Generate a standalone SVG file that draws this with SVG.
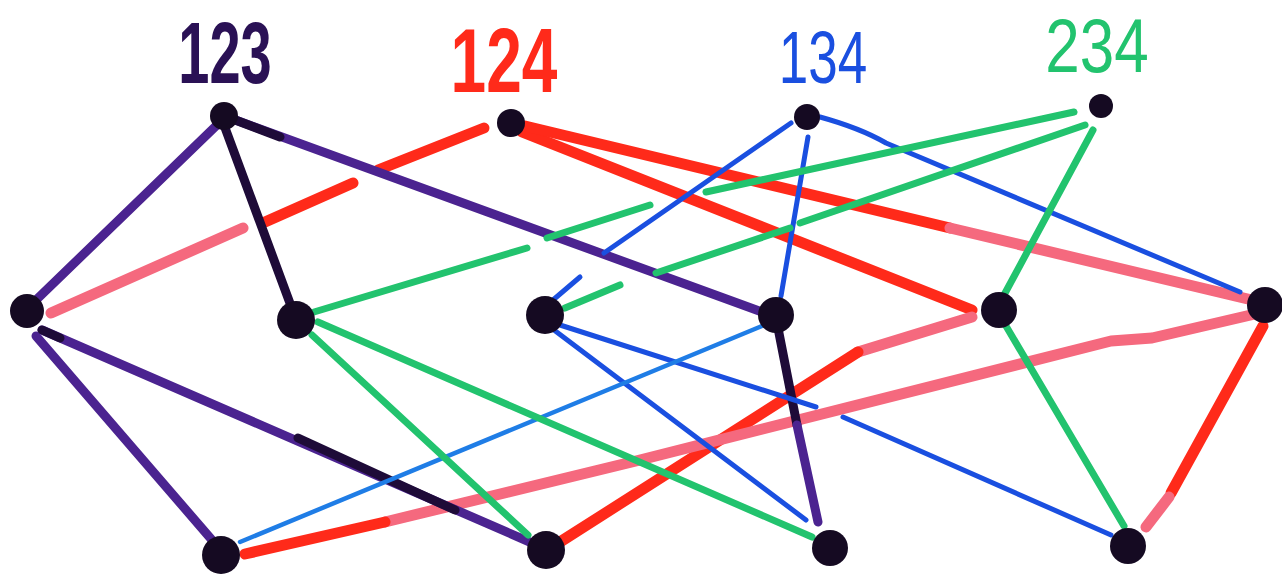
<svg xmlns="http://www.w3.org/2000/svg" width="1282" height="577" viewBox="0 0 1282 577">
<style>
.e{fill:none;stroke-linecap:round;stroke-linejoin:round}
.p{stroke:#4b2390;stroke-width:9}
.pd{stroke:#1e0b38;stroke-width:9}
.r{stroke:#ff2a1a;stroke-width:11}
.pk{stroke:#f5697e;stroke-width:11}
.b{stroke:#1a4fe0;stroke-width:5}
.bl{stroke:#1f7de6;stroke-width:4.5}
.g{stroke:#22c36e;stroke-width:7}
.n{fill:#150a22}
.lbl{font-family:"Liberation Sans",Arial,sans-serif;text-anchor:middle}
</style>
<rect width="1282" height="577" fill="#ffffff"/>
<g id="connectors">
  <!-- 124 (red/pink) -->
  <path class="e pk" d="M243,228 L51,313"/>
  <path class="e r" d="M353,183 L265,222"/>
  <path class="e r" d="M484,128 L378,170"/>
  <path class="e r" d="M522,132 L972,310"/>
  <path class="e r" d="M525,126 L950,228"/>
  <path class="e pk" d="M950,228 L1252,300"/>
  <path class="e pk" d="M972,317 L858,352"/>
  <path class="e r" d="M858,352 L560,542"/>
  <path class="e pk" d="M1255,314 L1152,338 L1111,341 L640,460 L385,522"/>
  <path class="e r" d="M385,522 L245,554"/>
  <path class="e r" d="M1263,326 L1171,493"/>
  <path class="e pk" d="M1169,497 L1146,527"/>
  <!-- 123 (purple) -->
  <path class="e p" d="M218,124 L34,302"/>
  <path class="e pd" d="M224,125 L291,306"/>
  <path class="e p" d="M230,118 L762,312"/>
  <path class="e pd" d="M230,118 L280,137"/>
  <path class="e p" d="M36,336 L212,540"/>
  <path class="e p" d="M42,330 L532,543"/>
  <path class="e pd" d="M42,330 L60,338"/>
  <path class="e pd" d="M298,438 L455,510"/>
  <path class="e pd" d="M778,328 L797,425"/>
  <path class="e p" d="M797,425 L818,522"/>
  <!-- 134 (blue) -->
  <path class="e b" d="M791,123 L604,253"/>
  <path class="e b" d="M580,277 L553,300"/>
  <path class="e b" d="M808,137 L781,296"/>
  <path class="e b" d="M820,117 Q860,128 886,143 L1240,292"/>
  <path class="e b" d="M554,330 L806,520"/>
  <path class="e b" d="M560,325 L816,407"/>
  <path class="e b" d="M843,417 L1111,535"/>
  <path class="e bl" d="M762,326 L240,542"/>
  <!-- 234 (green) -->
  <path class="e g" d="M1074,112 L706,192"/>
  <path class="e g" d="M650,205 L547,238"/>
  <path class="e g" d="M527,248 L314,312"/>
  <path class="e g" d="M1085,125 L800,223"/>
  <path class="e g" d="M790,228 L656,273"/>
  <path class="e g" d="M620,285 L565,308"/>
  <path class="e g" d="M1093,130 L1004,295"/>
  <path class="e g" d="M312,335 L528,535"/>
  <path class="e g" d="M318,322 L812,537"/>
  <path class="e g" d="M1006,326 L1124,526"/>
</g>
<g id="n123"><circle class="n" cx="224" cy="116" r="14"/><text class="lbl" transform="translate(225,83) scale(1,1.55)" font-size="56" font-weight="bold" fill="#2a1155">123</text></g>
<g id="n124"><circle class="n" cx="511" cy="123" r="14"/><text class="lbl" transform="translate(504,92) scale(1,1.41)" font-size="64" font-weight="bold" fill="#ff2a1a">124</text></g>
<g id="n134"><circle class="n" cx="807" cy="117" r="13"/><text class="lbl" transform="translate(823,83) scale(1,1.39)" font-size="53" fill="#1a4fe0">134</text></g>
<g id="n234"><circle class="n" cx="1101" cy="106" r="12"/><text class="lbl" transform="translate(1097,72) scale(1,1.22)" font-size="62" fill="#22c36e">234</text></g>
<g id="n12"><circle class="n" cx="27" cy="311" r="17"/></g>
<g id="n23"><circle class="n" cx="296" cy="320" r="19"/></g>
<g id="n34"><circle class="n" cx="545" cy="315" r="19"/></g>
<g id="n13"><circle class="n" cx="776" cy="315" r="18"/></g>
<g id="n24"><circle class="n" cx="999" cy="310" r="18"/></g>
<g id="n14"><circle class="n" cx="1265" cy="305" r="18"/></g>
<g id="n1"><circle class="n" cx="221" cy="555" r="19"/></g>
<g id="n2"><circle class="n" cx="546" cy="550" r="19"/></g>
<g id="n3"><circle class="n" cx="830" cy="548" r="18"/></g>
<g id="n4"><circle class="n" cx="1128" cy="546" r="18"/></g>
</svg>
